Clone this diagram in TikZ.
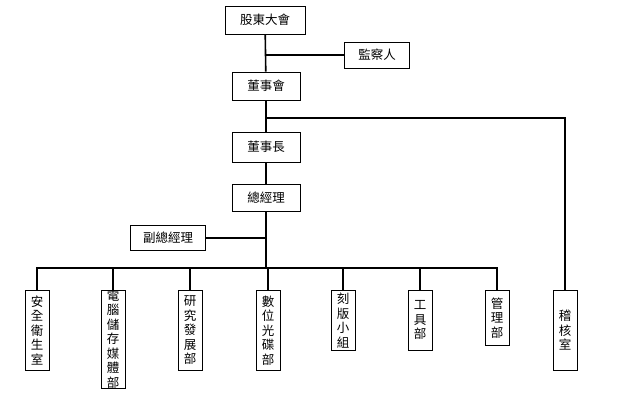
\documentclass[tikz,border=0pt]{standalone}
\usepackage{fontspec}
\newfontfamily\cjk{Noto Sans CJK TC}
\tikzset{
  box/.style = {draw, thick, rectangle, font=\cjk\fontsize{12.5}{14.5}\selectfont, inner sep=0pt},
  hbox/.style = {box, minimum height=28pt},
  vbox/.style = {box, minimum width=24pt, anchor=north, align=center},
  link/.style = {line width=1.6pt}
}
\begin{document}
\begin{tikzpicture}[x=1pt, y=-1pt]
  \useasboundingbox (0,0) rectangle (640,401);
          \node[hbox, minimum width=80pt] at (265,20)  (gd) {股東大會};
          \node[hbox, minimum width=65pt, minimum height=26pt] at (377,55)  (jc) {監察人};
          \node[hbox, minimum width=68pt] at (266,86)  (dsh) {董事會};
          \node[hbox, minimum width=68pt, minimum height=30pt] at (266,147) (dsz) {董事長};
          \node[hbox, minimum width=68pt, minimum height=27pt] at (266,198) (zjl) {總經理};
          \node[hbox, minimum width=75pt, minimum height=25pt] at (168,238) (fzjl) {副總經理};

          \node[vbox, minimum height=80pt] at (37,290)  (aq) {安\\全\\衛\\生\\室};
          \node[vbox, minimum height=98pt] at (113,290) (dn) {電\\腦\\儲\\存\\媒\\體\\部};
          \node[vbox, minimum height=80pt] at (190,290) (yj) {研\\究\\發\\展\\部};
          \node[vbox, minimum height=80pt] at (268,290) (sw) {數\\位\\光\\碟\\部};
          \node[vbox, minimum height=60pt] at (343,290) (kb) {刻\\版\\小\\組};
          \node[vbox, minimum height=60pt] at (420,290) (gj) {工\\具\\部};
          \node[vbox, minimum height=55pt] at (497,290) (gl) {管\\理\\部};
          \node[vbox, minimum height=80pt] at (565,290) (jh) {稽\\核\\室};

          \coordinate (bus) at (268,268);
          \draw[link] (gd) -- (dsh);
          \draw[link] (jc.west) -- (jc.west -| gd);
          \draw[link] (dsh) -- (dsz);
          \draw[link] (266,118) -| (jh.north);
          \draw[link] (dsz) -- (zjl);
          \draw[link] (zjl.south) -- (zjl.south |- bus);
          \draw[link] (fzjl.east) -- (fzjl.east -| zjl);
          \draw[link] (aq.north) |- (bus) -| (gl.north);
          \foreach \n in {dn, yj, sw, kb, gj}
            \draw[link] (\n.north) -- (\n.north |- bus);
\end{tikzpicture}
\end{document}
